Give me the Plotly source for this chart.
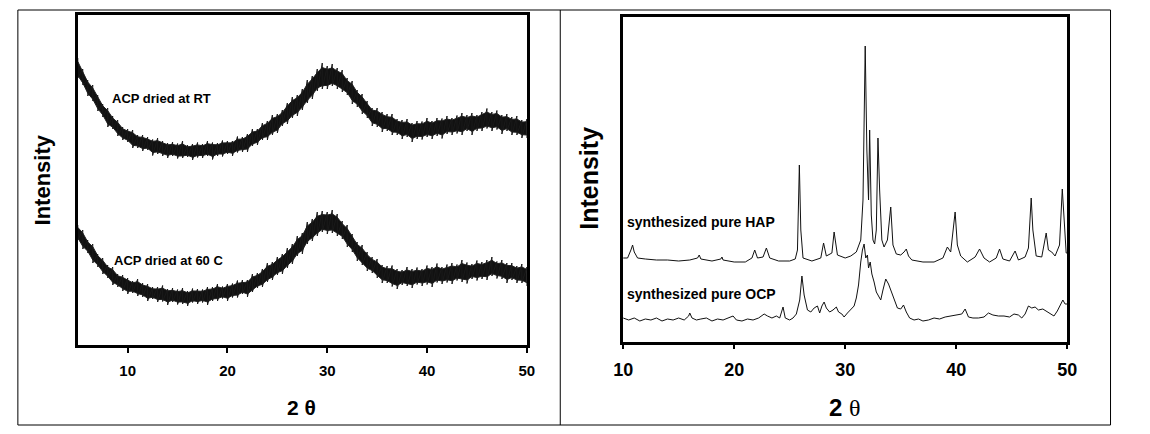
import plotly.graph_objects as go

# ---------------- Left panel data (ACP), 2-theta 5..50 step 0.5 ----------------
acp_x_start = 5.0
acp_x_step = 0.5

acp_rt_centre = [
    275, 267, 258, 250, 242, 235, 228, 222, 217, 212,
    209, 206, 204, 202, 201, 199.5, 198, 197, 196, 195,
    194.5, 194, 194, 194, 194.5, 195, 195, 195.5, 196, 196.5,
    197, 198, 199.5, 201, 203, 206, 209, 213, 216, 219,
    222, 227, 232, 236, 241, 245, 251, 259, 264, 267,
    268, 268, 267, 263, 258, 253, 247, 241, 235, 230,
    227, 225, 222, 220, 219, 217, 216, 215, 215, 215.5,
    216, 217, 218, 218.5, 219, 220, 220.5, 221, 222, 222,
    223, 224, 224.5, 225, 224.5, 223, 222, 220, 219, 218,
    217,
]
acp_rt_noise_up = [
    12, 9, 7, 10, 8, 6, 9, 7, 8, 6,
    7, 9, 6, 8, 7, 6, 9, 7, 6, 8,
    7, 10, 6, 7, 8, 6, 9, 7, 6, 8,
    7, 6, 9, 7, 8, 10, 7, 9, 8, 11,
    9, 8, 10, 12, 9, 11, 14, 10, 12, 15,
    11, 13, 10, 12, 9, 11, 8, 10, 9, 7,
    10, 8, 9, 11, 7, 8, 10, 7, 9, 8,
    11, 7, 9, 8, 10, 7, 9, 11, 8, 10,
    7, 9, 12, 8, 10, 7, 9, 8, 10, 7,
    9,
]
acp_rt_noise_dn = [
    8, 7, 9, 6, 8, 7, 10, 6, 8, 7,
    6, 9, 7, 8, 6, 10, 7, 8, 9, 6,
    8, 7, 6, 9, 7, 8, 6, 10, 7, 8,
    6, 9, 7, 8, 10, 7, 9, 8, 11, 9,
    10, 8, 11, 9, 12, 10, 9, 13, 10, 11,
    12, 9, 11, 10, 8, 12, 9, 10, 8, 11,
    9, 12, 8, 10, 9, 11, 8, 12, 9, 10,
    8, 11, 9, 12, 8, 10, 9, 11, 8, 12,
    9, 10, 8, 11, 9, 12, 8, 10, 9, 11,
    10,
]

acp_60_centre = [
    112, 105, 98, 92, 85, 79, 73, 69, 65, 62,
    60, 58, 57, 55, 53, 52, 51, 50.5, 50, 49,
    48.5, 48, 48, 48.5, 49, 49.5, 50, 51, 52, 52.5,
    53, 54.5, 55.5, 57, 58, 61, 64, 67, 71, 75,
    78, 82, 86, 91, 97, 103, 110, 115, 119, 122,
    123, 122, 120, 115, 108, 101, 95, 89, 84, 80,
    76, 73, 70, 68.5, 68, 68, 68, 68, 68.5, 69,
    69.5, 70, 70.5, 71, 71.5, 72, 72.5, 73, 73.5, 74,
    74.5, 75, 76, 77, 76.5, 75, 74, 73, 72, 71,
    70,
]
acp_60_noise_up = [
    8, 10, 7, 9, 6, 8, 7, 9, 6, 8,
    7, 6, 9, 7, 8, 6, 7, 9, 6, 8,
    7, 9, 6, 8, 7, 6, 8, 7, 9, 6,
    8, 7, 9, 8, 7, 10, 8, 9, 11, 8,
    10, 9, 11, 10, 12, 9, 13, 11, 14, 12,
    10, 13, 11, 9, 12, 10, 8, 11, 9, 8,
    10, 7, 9, 11, 8, 7, 10, 8, 9, 7,
    10, 8, 11, 7, 9, 10, 8, 12, 9, 7,
    10, 8, 9, 11, 7, 10, 8, 9, 7, 10,
    8,
]
acp_60_noise_dn = [
    7, 9, 6, 10, 7, 8, 6, 9, 7, 8,
    9, 6, 8, 7, 9, 6, 8, 7, 10, 6,
    8, 7, 9, 6, 8, 7, 10, 7, 8, 6,
    9, 7, 8, 6, 10, 8, 7, 9, 8, 10,
    8, 11, 9, 10, 8, 12, 9, 11, 10, 9,
    12, 10, 11, 9, 10, 8, 11, 9, 10, 8,
    9, 11, 8, 10, 12, 8, 9, 11, 8, 10,
    9, 12, 8, 10, 9, 11, 8, 10, 12, 8,
    10, 9, 11, 8, 10, 9, 12, 8, 10, 9,
    11,
]

# ---------------- Right panel data (HAP / OCP) ----------------
hap_x = [10.0, 10.4, 10.7, 10.85, 11.0, 11.3, 12.0, 13.0, 14.0, 15.0, 16.0, 16.7, 16.85, 17.0,
         18.0, 18.8, 18.9, 19.0, 20.0, 21.0, 21.6, 21.85, 22.1, 22.6, 22.9, 23.2, 24.0, 25.0,
         25.5, 25.7, 25.87, 26.0, 26.2, 27.0, 27.8, 28.05, 28.3, 28.8, 29.0, 29.3, 30.0, 30.5,
         31.0, 31.4, 31.6, 31.8, 31.95, 32.1, 32.2, 32.35, 32.5, 32.65, 32.8, 32.95, 33.1, 33.3,
         33.5, 33.8, 34.1, 34.3, 34.6, 35.0, 35.3, 35.5, 35.7, 36.0, 37.0, 38.0, 38.8, 39.2,
         39.5, 39.9, 40.1, 40.4, 41.0, 41.7, 42.1, 42.5, 43.0, 43.6, 43.9, 44.2, 44.8, 45.3,
         45.6, 46.2, 46.5, 46.75, 46.9, 47.2, 47.7, 48.1, 48.3, 48.6, 48.9, 49.3, 49.55, 49.7,
         49.9, 50.0]
hap_y = [84, 84, 92, 97, 90, 84, 83, 82, 82, 81, 82, 84, 87, 83,
         81, 83, 85, 82, 80, 80, 84, 92, 84, 85, 94, 84, 81, 81,
         83, 92, 177, 112, 84, 81, 84, 99, 86, 89, 110, 87, 84, 86,
         90, 102, 142, 296, 192, 142, 212, 127, 102, 98, 112, 204, 152, 102,
         95, 102, 135, 97, 88, 87, 90, 93, 86, 82, 80, 80, 84, 95,
         90, 130, 97, 86, 80, 85, 93, 84, 80, 84, 93, 83, 81, 91,
         82, 85, 94, 144, 112, 86, 85, 109, 92, 90, 86, 97, 153, 122,
         89, 89]

ocp_x = [10.0, 10.5, 11.0, 11.5, 12.0, 12.5, 13.0, 13.5, 14.0, 14.5, 15.0, 15.5, 15.9, 16.0,
         16.2, 16.6, 17.0, 17.5, 18.0, 18.5, 19.0, 19.5, 19.9, 20.2, 20.7, 21.2, 21.7, 22.2,
         22.7, 23.0, 23.4, 23.8, 24.1, 24.4, 24.6, 25.0, 25.3, 25.6, 25.9, 26.1, 26.3, 26.6,
         26.9, 27.2, 27.5, 27.7, 27.9, 28.1, 28.3, 28.6, 28.9, 29.2, 29.4, 29.7, 29.9, 30.2,
         30.5, 30.8, 31.0, 31.2, 31.4, 31.55, 31.7, 31.85, 32.0, 32.1, 32.25, 32.4, 32.6, 32.8,
         33.0, 33.2, 33.4, 33.65, 33.9, 34.1, 34.4, 34.7, 35.0, 35.25, 35.5, 35.8, 36.2, 36.6,
         37.0, 37.5, 38.0, 38.5, 39.0, 39.5, 40.0, 40.5, 40.8, 41.1, 41.5, 42.0, 42.5, 42.9,
         43.3, 43.8, 44.3, 44.8, 45.2, 45.6, 45.9, 46.2, 46.5, 46.8, 47.1, 47.4, 47.8, 48.1,
         48.5, 48.8, 49.1, 49.4, 49.6, 49.8, 50.0]
ocp_y = [24, 22, 24, 21, 23, 22, 24, 21, 23, 22, 24, 22, 26, 29,
         24, 22, 23, 24, 21, 23, 22, 24, 26, 22, 21, 23, 22, 24,
         28, 26, 24, 26, 24, 35, 24, 22, 24, 28, 42, 66, 47, 32,
         30, 34, 36, 29, 36, 40, 34, 30, 32, 35, 30, 28, 25, 29,
         32, 36, 44, 57, 80, 92, 98, 84, 87, 74, 80, 68, 60, 50,
         46, 42, 52, 63, 58, 52, 42, 34, 33, 37, 30, 24, 22, 23,
         21, 22, 24, 23, 25, 26, 27, 28, 33, 25, 24, 24, 25, 29,
         27, 26, 26, 25, 28, 27, 24, 28, 36, 34, 35, 32, 33, 31,
         28, 26, 31, 38, 42, 38, 38]

x_ticks = [10, 20, 30, 40, 50]
left_labels = ["ACP dried at RT", "ACP dried at 60 C"]
right_labels = ["synthesized pure HAP", "synthesized pure OCP"]

W, H = 1150, 434
SANS = "Arial, Liberation Sans, sans-serif"


def px(x):
    return x / W


def py(y):
    return 1 - y / H


fig = go.Figure()

for centre, up, dn in [(acp_rt_centre, acp_rt_noise_up, acp_rt_noise_dn),
                       (acp_60_centre, acp_60_noise_up, acp_60_noise_dn)]:
    xs = [acp_x_start + i * acp_x_step for i in range(len(centre))]
    # dark core of the noisy trace
    core_top = [c + 0.7 * u for c, u in zip(centre, up)]
    core_bot = [c - 0.7 * d for c, d in zip(centre, dn)]
    fig.add_trace(go.Scatter(x=xs + xs[::-1], y=core_top + core_bot[::-1], fill="toself",
                             fillcolor="#111111", line=dict(color="#222222", width=1), mode="lines",
                             xaxis="x", yaxis="y", showlegend=False, hoverinfo="skip"))
    # spiky excursions of the noisy trace
    zx, zy = [], []
    for x, c, u, d in zip(xs, centre, up, dn):
        zx += [x, x]
        zy += [c + u, c - d]
    fig.add_trace(go.Scatter(x=zx, y=zy, mode="lines", line=dict(color="#1a1a1a", width=1),
                             xaxis="x", yaxis="y", showlegend=False, hoverinfo="skip"))

fig.add_trace(go.Scatter(x=hap_x, y=hap_y, mode="lines", line=dict(color="#111111", width=1),
                         xaxis="x2", yaxis="y2", showlegend=False))
fig.add_trace(go.Scatter(x=ocp_x, y=ocp_y, mode="lines", line=dict(color="#111111", width=1),
                         xaxis="x2", yaxis="y2", showlegend=False))

axis_common = dict(showline=True, linewidth=3, linecolor="black", mirror=True,
                   showgrid=False, zeroline=False)

fig.update_layout(
    width=W, height=H,
    margin=dict(l=0, r=0, t=0, b=0),
    paper_bgcolor="white", plot_bgcolor="white",
    showlegend=False,
    xaxis=dict(domain=[px(69), px(526)], range=[5, 50], tickvals=x_ticks,
               ticks="outside", ticklen=5, tickwidth=2, tickcolor="black",
               ticklabelstandoff=5,
               tickfont=dict(family=SANS, size=15, color="black", weight="bold"),
               anchor="y", **axis_common),
    yaxis=dict(domain=[py(345), py(15)], range=[0, 330], showticklabels=False,
               ticks="", anchor="x", **axis_common),
    xaxis2=dict(domain=[px(624), px(1076)], range=[10, 50], tickvals=x_ticks,
                ticks="outside", ticklen=4, tickwidth=2, tickcolor="black",
                ticklabelstandoff=5,
                tickfont=dict(family=SANS, size=18, color="black", weight="bold"),
                anchor="y2", **axis_common),
    yaxis2=dict(domain=[py(342), py(17)], range=[0, 325], showticklabels=False,
                ticks="", anchor="x2", **axis_common),
)

# Outer table border and divider
fig.add_shape(type="rect", xref="paper", yref="paper", x0=px(8), x1=px(1120), y0=py(425), y1=py(10),
              line=dict(color="black", width=1))
fig.add_shape(type="line", xref="paper", yref="paper", x0=px(560), x1=px(560), y0=py(425), y1=py(10),
              line=dict(color="black", width=1))

ann = []
ann.append(dict(text="<b>Intensity</b>", x=px(33), y=py(180), textangle=-90,
                font=dict(family=SANS, size=22, color="black")))
ann.append(dict(text="<b>2 θ</b>", x=px(297), y=py(407),
                font=dict(family=SANS, size=21, color="black")))
ann.append(dict(text="<b>Intensity</b>", x=px(589), y=py(178), textangle=-90,
                font=dict(family=SANS, size=25, color="black")))
ann.append(dict(text="<b>2</b> <span style='font-family:Liberation Serif, Times New Roman, serif'>θ</span>",
                x=px(850), y=py(407), font=dict(family=SANS, size=24, color="black")))
ann.append(dict(text="<b>%s</b>" % left_labels[0], x=px(102), y=py(98), xanchor="left",
                font=dict(family=SANS, size=13, color="black")))
ann.append(dict(text="<b>%s</b>" % left_labels[1], x=px(104), y=py(260), xanchor="left",
                font=dict(family=SANS, size=13, color="black")))
ann.append(dict(text="<b>%s</b>" % right_labels[0], x=px(626), y=py(222), xanchor="left",
                font=dict(family=SANS, size=14, color="black")))
ann.append(dict(text="<b>%s</b>" % right_labels[1], x=px(626), y=py(294), xanchor="left",
                font=dict(family=SANS, size=14, color="black")))

for a in ann:
    a.update(xref="paper", yref="paper", showarrow=False)
    a.setdefault("xanchor", "center")
    a.setdefault("yanchor", "middle")
    fig.add_annotation(**a)

fig.write_html("out.html")
